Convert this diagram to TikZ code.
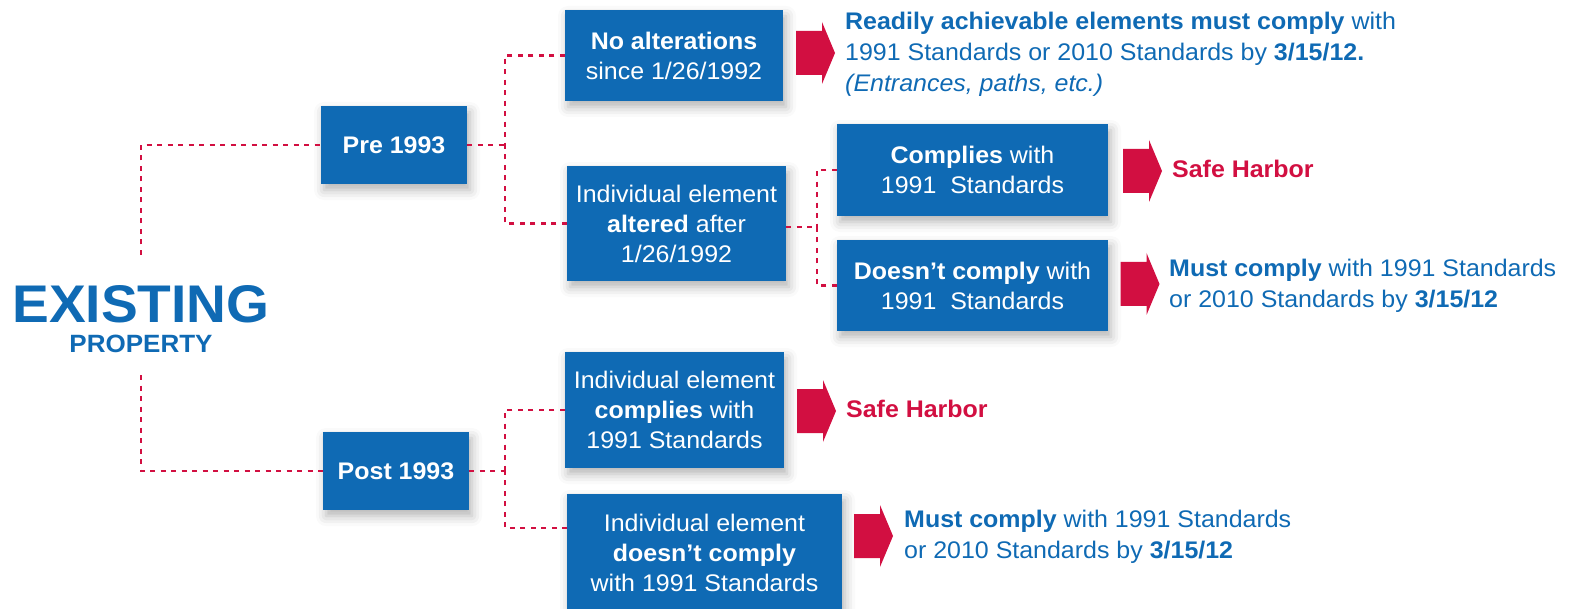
\documentclass[tikz,border=0pt]{standalone}
\usepackage{fontspec}
\setmainfont{Liberation Sans}[FakeStretch=1.04]
\usetikzlibrary{shadows.blur}
\definecolor{boxblue}{HTML}{0F6AB4}
\definecolor{linered}{HTML}{D20F41}
\newcommand\boxfont{\fontsize{24}{30}\selectfont}
\newcommand\notefont{\fontsize{24}{31}\selectfont}
\begin{document}
\begin{tikzpicture}[x=1pt,y=-1pt,
 box/.style={fill=boxblue, text=white, align=center, inner sep=0pt, font=\boxfont,
   blur shadow={shadow xshift=3pt, shadow yshift=-6pt, shadow blur radius=10pt, shadow opacity=30}},
 conn/.style={draw=linered, line width=2.6pt, dash pattern=on 5pt off 5.5pt},
 note/.style={anchor=west, align=left, inner sep=0pt, text=boxblue, font=\notefont},
 harbor/.style={anchor=west, inner sep=0pt, text=linered, font=\notefont\bfseries},
 barrow/.pic={\fill[linered] (-19.5,-22) -- (6.5,-22) -- (6.5,-31) -- (19.5,0) -- (6.5,31) -- (6.5,22) -- (-19.5,22) -- cycle;}
]
\useasboundingbox (0,0) rectangle (1570,609);

% title
\node[inner sep=0pt, text=boxblue, font=\fontsize{53}{53}\selectfont\bfseries] (exist) at (141,304) {EXISTING};
\node[inner sep=0pt, text=boxblue, font=\fontsize{25}{25}\selectfont\bfseries] (prop) at (141,344) {PROPERTY};

% boxes
\node[box, minimum width=146, minimum height=78] (pre) at (394,145) {\textbf{Pre 1993}};
\node[box, minimum width=146, minimum height=78] (post) at (396,471) {\textbf{Post 1993}};
\node[box, minimum width=218, minimum height=91] (noalt) at (674,55.5) {\textbf{No alterations}\\since 1/26/1992};
\node[box, minimum width=219, minimum height=115] (altered) at (676.5,223.5) {Individual element\\\textbf{altered} after\\1/26/1992};
\node[box, minimum width=271, minimum height=92] (comp) at (972.5,170) {\textbf{Complies} with\\1991~ Standards};
\node[box, minimum width=271, minimum height=91] (ncomp) at (972.5,285.5) {\textbf{Doesn’t comply} with\\1991~ Standards};
\node[box, minimum width=219, minimum height=116] (icomp) at (674.5,410) {Individual element\\\textbf{complies} with\\1991 Standards};
\node[box, minimum width=275, minimum height=118] (incomp) at (704.5,553) {Individual element\\\textbf{doesn’t comply}\\with 1991 Standards};

% connectors
\coordinate (e1) at (141,255);
\coordinate (e2) at (141,375);
\coordinate (j1) at (505,145);
\coordinate (j2) at (817,227);
\coordinate (j3) at (505,471);
\coordinate (a2) at (786,227);
\coordinate (k5) at (567,528);
\draw[conn] (e1) |- (pre.west);
\draw[conn] (e2) |- (post.west);
\draw[conn] (pre.east) -- (j1);
\draw[conn] (noalt.west) -| (j1);
\draw[conn] (altered.west) -| (j1);
\draw[conn] (a2) -- (j2);
\draw[conn] (comp.west) -| (j2);
\draw[conn] (ncomp.west) -| (j2);
\draw[conn] (post.east) -- (j3);
\draw[conn] (icomp.west) -| (j3);
\draw[conn] (k5) -| (j3);

% block arrows
\pic at (815.5,53) {barrow};
\pic at (1142.5,171) {barrow};
\pic at (1140,284) {barrow};
\pic at (816.5,411) {barrow};
\pic at (873.5,536) {barrow};

% outcome texts
\node[note] (t1) at (845,54.5) {\textbf{Readily achievable elements must comply} with\\1991 Standards or 2010 Standards by \textbf{3/15/12.}\\\textit{(Entrances, paths, etc.)}};
\node[harbor] (t2) at (1172,169) {Safe Harbor};
\node[note] (t3) at (1169,285.5) {\textbf{Must comply} with 1991 Standards\\or 2010 Standards by \textbf{3/15/12}};
\node[harbor] (t4) at (846,409) {Safe Harbor};
\node[note] (t5) at (904,536.5) {\textbf{Must comply} with 1991 Standards\\or 2010 Standards by \textbf{3/15/12}};
\end{tikzpicture}
\end{document}
